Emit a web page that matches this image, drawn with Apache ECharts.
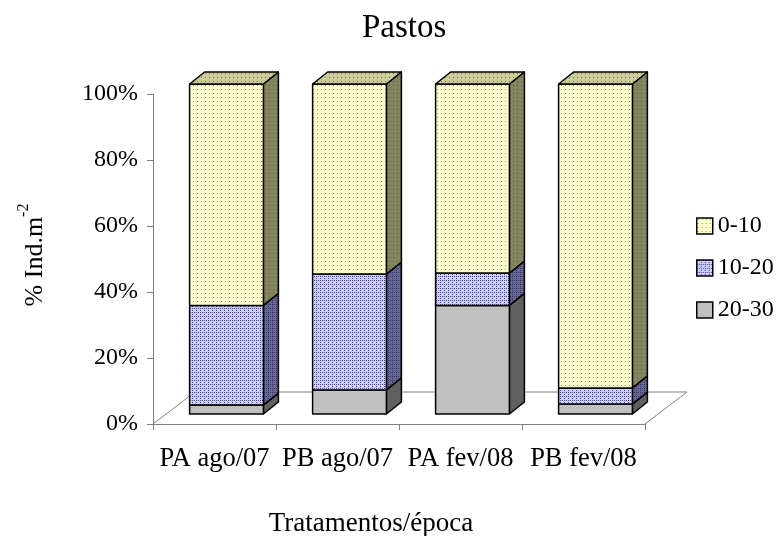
<!DOCTYPE html>
<html>
<head>
<meta charset="utf-8">
<script src="https://cdn.jsdelivr.net/npm/echarts@6/dist/echarts.min.js"></script>
<style>
  html, body { margin: 0; padding: 0; background: #fff; }
  #chart { width: 779px; height: 536px; }
</style>
</head>
<body>
<div id="chart"></div>
<script>
// dados (% Ind.m-2)
const categories = ['PA ago/07', 'PB ago/07', 'PA fev/08', 'PB fev/08']
const seriesNames = ['0-10', '10-20', '20-30']
const val0_10 = [67.1, 57.6, 57.3, 92.1]
const val10_20 = [30.2, 35.1, 9.8, 4.9]
const val20_30 = [2.7, 7.3, 32.9, 3.0]

// padrões de preenchimento (estilo Excel)
function pattern (bg, fg, kind) {
  const c = document.createElement('canvas')
  c.width = 4
  c.height = 4
  const g = c.getContext('2d')
  g.fillStyle = bg
  g.fillRect(0, 0, 4, 4)
  g.fillStyle = fg
  if (kind === 'dots') {
    g.fillRect(1, 1, 1, 1)
  } else if (kind === 'grid') {
    g.fillRect(0, 0, 1, 1)
    g.fillRect(0, 2, 1, 1)
    g.fillRect(2, 0, 1, 1)
  }
  return { image: c, repeat: 'repeat' }
}

const faces = {
  '0-10': {
    front: pattern('#ffffcc', '#9a9a80', 'dots'),
    side: pattern('#85855f', '#5a5a40', 'dots'),
    top: pattern('#cccc99', '#7a7a5a', 'dots')
  },
  '10-20': {
    front: pattern('#ccccff', '#4a4a88', 'grid'),
    side: pattern('#666699', '#33334d', 'grid'),
    top: pattern('#9999cc', '#4a4a88', 'grid')
  },
  '20-30': {
    front: '#c0c0c0',
    side: '#606060',
    top: '#909090'
  }
}

// profundidade 3D (px)
const FRONT_DX = 12
const FRONT_DY = -10
const SIDE_DX = 15
const SIDE_DY = -12
const FLOOR_DX = 42
const FLOOR_DY = -32
const FONT = 'Liberation Serif'

// acumula as faixas de baixo para cima
const stackOrder = [['20-30', val20_30], ['10-20', val10_20], ['0-10', val0_10]]
const base = categories.map(() => 0)
const stacked = stackOrder.map(([name, vals]) => {
  const data = vals.map((v, i) => {
    const item = [i, base[i], base[i] + v]
    base[i] += v
    return item
  })
  return { name, data }
})

function renderBar (name, isTop) {
  const f = faces[name]
  return function (params, api) {
    const i = api.value(0)
    const pLo = api.coord([i, api.value(1)])
    const pHi = api.coord([i, api.value(2)])
    const hw = api.size([1, 0])[0] * 0.3
    const cx = pLo[0] + FRONT_DX
    const x0 = cx - hw
    const x1 = cx + hw
    const yb = pLo[1] + FRONT_DY
    const yt = pHi[1] + FRONT_DY
    const line = { stroke: '#000', lineWidth: 1.5, lineJoin: 'round' }
    const children = [
      {
        type: 'polygon',
        shape: { points: [[x1, yb], [x1 + SIDE_DX, yb + SIDE_DY], [x1 + SIDE_DX, yt + SIDE_DY], [x1, yt]] },
        style: Object.assign({ fill: f.side }, line)
      },
      {
        type: 'rect',
        shape: { x: x0, y: yt, width: x1 - x0, height: yb - yt },
        style: Object.assign({ fill: f.front }, line)
      }
    ]
    if (isTop) {
      children.push({
        type: 'polygon',
        shape: { points: [[x0, yt], [x0 + SIDE_DX, yt + SIDE_DY], [x1 + SIDE_DX, yt + SIDE_DY], [x1, yt]] },
        style: Object.assign({ fill: f.top }, line)
      })
    }
    return { type: 'group', children }
  }
}

function renderFloor (params, api) {
  const cs = params.coordSys
  const xl = cs.x
  const xr = cs.x + cs.width
  const yf = cs.y + cs.height
  return {
    type: 'polyline',
    shape: {
      points: [[xl, yf], [xl + FLOOR_DX, yf + FLOOR_DY], [xr + FLOOR_DX, yf + FLOOR_DY], [xr, yf]]
    },
    style: { stroke: '#808080', lineWidth: 1, fill: null }
  }
}

const series = [{
  name: 'floor',
  type: 'custom',
  renderItem: renderFloor,
  data: [[0, 0, 0]],
  z: 1,
  silent: true
}]
stacked.forEach((s, k) => {
  series.push({
    name: s.name,
    type: 'custom',
    renderItem: renderBar(s.name, k === stacked.length - 1),
    encode: { x: 0, y: [1, 2] },
    data: s.data,
    z: 2 + k,
    itemStyle: { color: faces[s.name].front, borderColor: '#000', borderWidth: 1.5 }
  })
})

const chart = echarts.init(document.getElementById('chart'))
const option = {
  animation: false,
  backgroundColor: '#fff',
  title: {
    text: 'Pastos',
    left: 357,
    top: 7,
    textStyle: { fontFamily: FONT, fontSize: 33, fontWeight: 'normal', color: '#000' }
  },
  legend: {
    orient: 'vertical',
    left: 691,
    top: 209,
    itemWidth: 16,
    itemHeight: 16,
    itemGap: 18,
    textStyle: { fontFamily: FONT, fontSize: 24, color: '#000', padding: [0, 0, 0, 0] },
    data: seriesNames.map(n => ({
      name: n,
      icon: 'rect',
      itemStyle: { color: faces[n].front, borderColor: '#000', borderWidth: 1.5 }
    }))
  },
  grid: { left: 153, top: 94, width: 492, height: 330, outerBoundsMode: 'none', containLabel: false },
  xAxis: {
    type: 'category',
    data: categories,
    name: 'Tratamentos/época',
    nameLocation: 'middle',
    nameGap: 86,
    nameTextStyle: { fontFamily: FONT, fontSize: 27, color: '#000', padding: [0, 56, 0, 0] },
    axisLine: { lineStyle: { color: '#808080', width: 1 } },
    axisTick: { show: true, length: 6, alignWithLabel: false, lineStyle: { color: '#808080' } },
    axisLabel: { fontFamily: FONT, fontSize: 26.5, color: '#000', margin: 22, interval: 0 }
  },
  yAxis: {
    type: 'value',
    min: 0,
    max: 100,
    interval: 20,
    name: '{a|% Ind.m}{s|-2}',
    nameLocation: 'middle',
    nameGap: 105,
    nameRotate: 90,
    nameTextStyle: {
      padding: [0, 0, 0, 8],
      rich: {
        a: { fontFamily: FONT, fontSize: 26, color: '#000', lineHeight: 32, verticalAlign: 'bottom' },
        s: { fontFamily: FONT, fontSize: 16, color: '#000', verticalAlign: 'top', lineHeight: 32 }
      }
    },
    splitLine: { show: false },
    axisLine: { show: true, lineStyle: { color: '#808080', width: 1 } },
    axisTick: { show: true, length: 6, lineStyle: { color: '#808080' } },
    axisLabel: { fontFamily: FONT, fontSize: 24, color: '#000', margin: 15, formatter: '{value}%' }
  },
  series
}
chart.setOption(option)
window.addEventListener('resize', function () {
  chart.resize()
})
</script>
</body>
</html>
